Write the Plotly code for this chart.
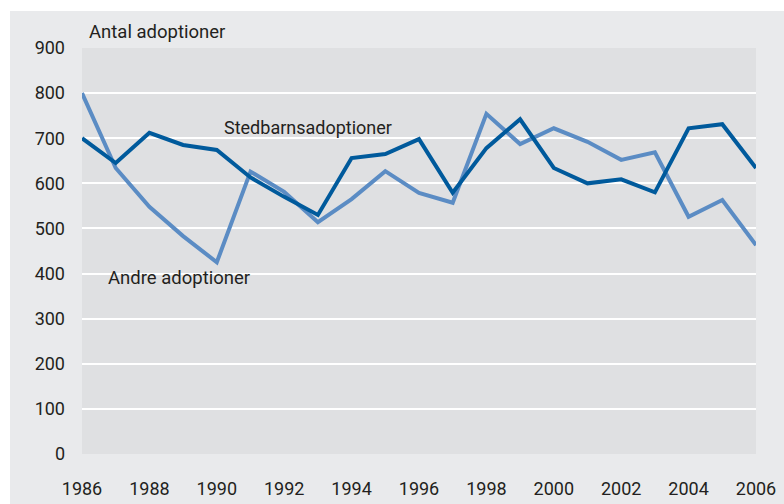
import plotly.graph_objects as go

years = list(range(1986, 2007))
stedbarn = [700, 645, 712, 685, 674, 613, 570, 530, 656, 665, 698, 579, 678, 742, 634, 600, 609, 580, 722, 731, 634]
andre = [800, 634, 548, 483, 425, 626, 581, 514, 565, 627, 579, 557, 754, 687, 722, 692, 652, 669, 526, 563, 463]
x_ticks = list(range(1986, 2007, 2))
y_ticks = list(range(0, 901, 100))

FONT = "Roboto, sans-serif"
TXT = "#231f20"

fig = go.Figure()
fig.add_trace(go.Scatter(x=years, y=andre, mode="lines", line=dict(color="#5b8cc4", width=4),
                         name="Andre adoptioner", showlegend=False))
fig.add_trace(go.Scatter(x=years, y=stedbarn, mode="lines", line=dict(color="#005a9c", width=4),
                         name="Stedbarnsadoptioner", showlegend=False))

L, R, T, B = 82, 28, 48, 50
W, H = 784, 504
pw, ph = W - L - R, H - T - B

def px(xpix):
    return (xpix - L) / pw

def py(ypix):
    return (H - B - ypix) / ph

fig.update_layout(
    width=W, height=H,
    autosize=False,
    margin=dict(l=L, r=R, t=T, b=B, autoexpand=False),
    paper_bgcolor="#e9eaec",
    plot_bgcolor="#dfe0e2",
    font=dict(family=FONT, size=18, color=TXT),
    xaxis=dict(range=[1986, 2006], tickvals=x_ticks, showgrid=False, zeroline=False,
               showline=False, ticks="", tickfont=dict(size=18, color=TXT), ticklabelstandoff=22,
               automargin=False),
    yaxis=dict(range=[0, 900], tickvals=y_ticks, showgrid=True, gridcolor="white", gridwidth=2,
               zeroline=False, showline=False, ticks="", tickfont=dict(size=18, color=TXT),
               ticklabelstandoff=16, automargin=False),
    shapes=[
        dict(type="rect", xref="paper", yref="paper", x0=px(-20), x1=px(W + 20), y0=py(11), y1=py(-20),
             fillcolor="white", line=dict(width=0), layer="above"),
        dict(type="rect", xref="paper", yref="paper", x0=px(-20), x1=px(10), y0=py(H + 20), y1=py(-20),
             fillcolor="white", line=dict(width=0), layer="above"),
    ],
    annotations=[
        dict(text="Antal adoptioner", xref="paper", yref="paper", x=px(87), y=py(32),
             xanchor="left", yanchor="middle", showarrow=False, font=dict(size=18.5, color=TXT)),
        dict(text="Stedbarnsadoptioner", xref="paper", yref="paper", x=px(222), y=py(128),
             xanchor="left", yanchor="middle", showarrow=False, font=dict(size=18, color=TXT)),
        dict(text="Andre adoptioner", xref="paper", yref="paper", x=px(106), y=py(278),
             xanchor="left", yanchor="middle", showarrow=False, font=dict(size=18.5, color=TXT)),
    ],
)

fig.write_html("out.html", config={"displayModeBar": False},
               post_script="document.body.style.margin='0';document.body.style.overflow='hidden';")
